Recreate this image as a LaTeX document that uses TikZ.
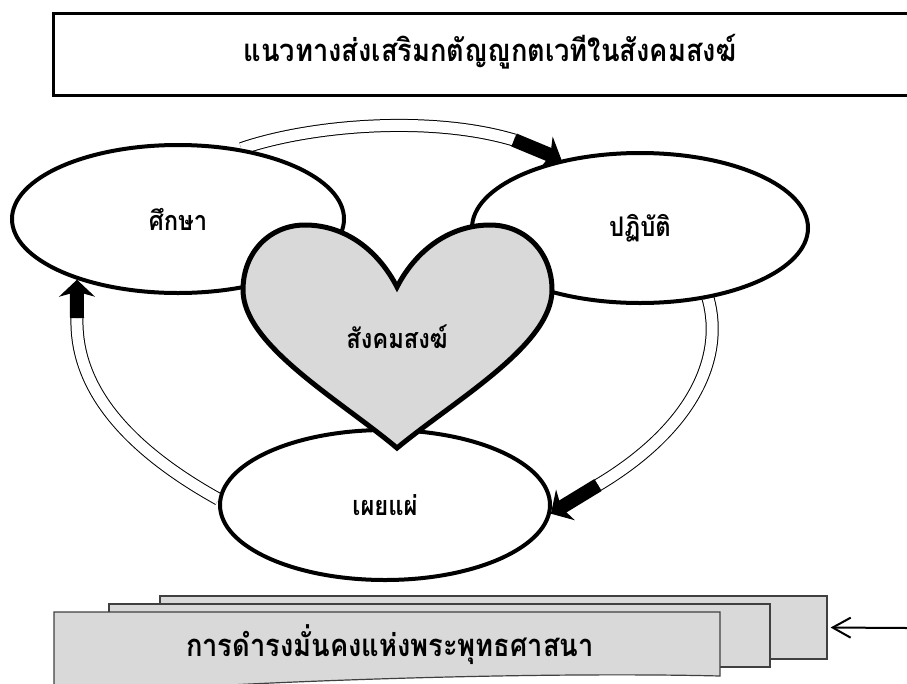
\documentclass[tikz,border=0pt]{standalone}
\usepackage{fontspec}
\newfontfamily\thaifont[Script=Thai, FakeStretch=0.88]{Loma}
\usetikzlibrary{shapes.geometric,arrows.meta,backgrounds}

\begin{document}
\begin{tikzpicture}[x=1pt,y=-1pt,
	every node/.style={font=\thaifont\bfseries\fontsize{27}{31}\selectfont},
	big/.style={font=\thaifont\bfseries\fontsize{31}{35}\selectfont},
	stage/.style={ellipse, draw, line width=4pt, fill=white, inner sep=0pt},
	ring/.style={line width=1pt, double=white, double distance=11pt},
	shaft/.style={line width=14pt},
	head/.style={line width=1pt, -{Stealth[length=17pt, width=36pt, inset=5pt]}},
	card/.style={draw=black!75, line width=1.2pt, fill=black!15, inner sep=0pt}]

\useasboundingbox (0,0) rectangle (907,683);
\clip (0,0) rectangle (907,683);

\newcommand\ringtip[2]{
	\draw[shaft, shorten >=10pt] (#1) -- (#2);
	\draw[head] (#1) -- (#2);
}

\draw[line width=3pt] (53,13) rectangle (920,95);
\node[big] (title) at (490,52) {แนวทางส่งเสริมกตัญญูกตเวทีในสังคมสงฆ์};

\node[stage, minimum width=332pt, minimum height=148pt] (study) at (178,219) {ศึกษา};
\node[stage, minimum width=336pt, minimum height=150pt] (practice) at (640,228) {ปฏิบัติ};
\node[stage, minimum width=330pt, minimum height=150pt] (spread) at (385,505) {เผยแผ่};

\coordinate (topneck) at (514,140);
\coordinate (rightneck) at (598,485);
\coordinate (leftneck) at (77,318);

\begin{pgfonlayer}{background}
\draw[ring] (study.48) .. controls (310,125) and (430,115) .. (topneck);
\draw[ring] (practice.-46) .. controls (725,360) and (690,430) .. (rightneck);
\draw[ring] (spread.178) .. controls (130,450) and (75,390) .. (leftneck);
\end{pgfonlayer}

\filldraw[fill=black!15, line width=5pt, line join=miter] (397,287)
	.. controls (416,250) and (450,225) .. (490,225)
	.. controls (525,225) and (552,252) .. (552,290)
	.. controls (552,345) and (455,400) .. (397,448)
	.. controls (340,400) and (243,345) .. (243,290)
	.. controls (243,252) and (270,225) .. (305,225)
	.. controls (345,225) and (378,250) .. (397,287) -- cycle;
\node (sangha) at (397,337) {สังคมสงฆ์};

\foreach \neck/\tip in {topneck/practice.139, rightneck/spread.-3, leftneck/study.211}
	{\ringtip{\neck}{\tip}}

\node[card, minimum width=667pt, minimum height=63pt] (back) at (493.5,627.5) {};
\node[card, minimum width=661pt, minimum height=63pt] (middle) at (439.5,635.5) {};
\draw[card] (54,612) -- (720,612) -- (720,676)
	.. controls (600,673) and (420,676) .. (250,684)
	.. controls (150,689) and (90,690) .. (54,688) -- cycle;
\node[big] (keep) at (390,645) {การดำรงมั่นคงแห่งพระพุทธศาสนา};

\coordinate (feed) at (907,628);
\draw[line width=2pt, shorten >=3pt, -{Straight Barb[length=18pt, width=20pt]}] (feed) -- (back.east);

\end{tikzpicture}
\end{document}
